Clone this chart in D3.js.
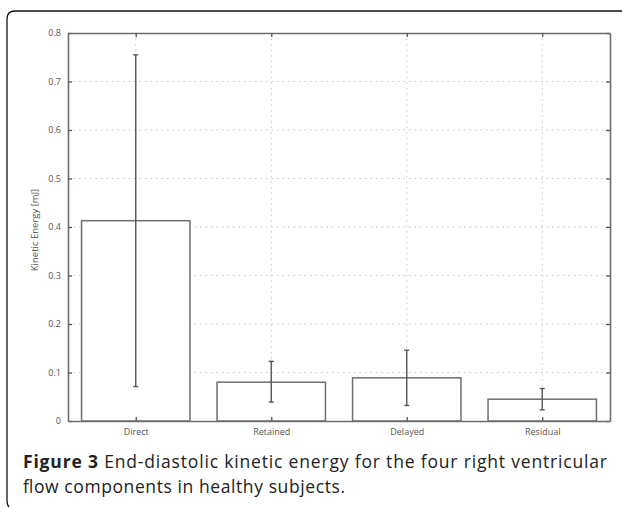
<!DOCTYPE html>
<html>
<head>
<meta charset="utf-8">
<script src="https://cdn.jsdelivr.net/npm/d3@7"></script>
<style>
  body { margin: 0; background: #fff; }
  svg { display: block; }
</style>
</head>
<body>
<div id="chart"></div>
<script>
// data
const categories = ["Direct", "Retained", "Delayed", "Residual"];
const means = [0.413, 0.080, 0.089, 0.045];
const errLow = [0.071, 0.039, 0.032, 0.023];
const errHigh = [0.755, 0.123, 0.146, 0.067];
const yTicks = [0, 0.1, 0.2, 0.3, 0.4, 0.5, 0.6, 0.7, 0.8];

const W = 622, H = 508;
const plot = {left: 68, right: 610, top: 33, bottom: 421};
const axisColor = "#6e6e6e";

const svg = d3.select("#chart").append("svg")
    .attr("width", W)
    .attr("height", H);

svg.append("rect").attr("width", W).attr("height", H).attr("fill", "#fff");

// figure frame (rounded corner at top left)
svg.append("path")
    .attr("d", "M622,11 H15 Q7,11 7,19 V501 Q7,505 9,507")
    .attr("fill", "none")
    .attr("stroke", "#111")
    .attr("stroke-width", 1.3);

const x = d3.scaleLinear()
    .domain([0.5, 4.5])
    .range([plot.left, plot.right]);

const y = d3.scaleLinear()
    .domain([0, 0.8])
    .range([plot.bottom, plot.top]);

const g = svg.append("g");

// dotted grid
g.selectAll(".hgrid")
    .data(yTicks.filter(t => t > 0 && t < 0.8))
    .join("line")
    .attr("class", "hgrid")
    .attr("x1", plot.left).attr("x2", plot.right)
    .attr("y1", d => y(d)).attr("y2", d => y(d))
    .attr("stroke", "#c4c4c4")
    .attr("stroke-width", 1)
    .attr("stroke-dasharray", "1.5,4");

g.selectAll(".vgrid")
    .data(categories)
    .join("line")
    .attr("class", "vgrid")
    .attr("x1", (d, i) => x(i + 1)).attr("x2", (d, i) => x(i + 1))
    .attr("y1", plot.top).attr("y2", plot.bottom)
    .attr("stroke", "#c4c4c4")
    .attr("stroke-width", 1)
    .attr("stroke-dasharray", "1.5,4");

// bars
const barW = x(0.8) - x(0);
g.selectAll(".bar")
    .data(means)
    .join("rect")
    .attr("class", "bar")
    .attr("x", (d, i) => x(i + 1) - barW / 2)
    .attr("y", d => y(d))
    .attr("width", barW)
    .attr("height", d => y(0) - y(d))
    .attr("fill", "#fff")
    .attr("stroke", axisColor)
    .attr("stroke-width", 1.5);

// error bars
const cap = 2.5;
const eb = g.selectAll(".err")
    .data(categories)
    .join("g")
    .attr("class", "err")
    .attr("stroke", "#555")
    .attr("stroke-width", 1.4);
eb.append("line")
    .attr("x1", (d, i) => x(i + 1)).attr("x2", (d, i) => x(i + 1))
    .attr("y1", (d, i) => y(errHigh[i])).attr("y2", (d, i) => y(errLow[i]));
eb.append("line")
    .attr("x1", (d, i) => x(i + 1) - cap).attr("x2", (d, i) => x(i + 1) + cap)
    .attr("y1", (d, i) => y(errHigh[i])).attr("y2", (d, i) => y(errHigh[i]));
eb.append("line")
    .attr("x1", (d, i) => x(i + 1) - cap).attr("x2", (d, i) => x(i + 1) + cap)
    .attr("y1", (d, i) => y(errLow[i])).attr("y2", (d, i) => y(errLow[i]));

// axes: ticks pointing inward on all four sides
const tickLen = 4;
const fmt = d => d === 0 ? "0" : d3.format(".1f")(d);

const axLeft = svg.append("g")
    .attr("transform", "translate(" + plot.left + ",0)")
    .call(d3.axisLeft(y).tickValues(yTicks).tickFormat(fmt).tickSizeInner(-tickLen).tickSizeOuter(0).tickPadding(7));
const axRight = svg.append("g")
    .attr("transform", "translate(" + plot.right + ",0)")
    .call(d3.axisRight(y).tickValues(yTicks).tickFormat("").tickSizeInner(-tickLen).tickSizeOuter(0));
const axBottom = svg.append("g")
    .attr("transform", "translate(0," + plot.bottom + ")")
    .call(d3.axisBottom(x).tickValues([1, 2, 3, 4]).tickFormat((d) => categories[d - 1]).tickSizeInner(-tickLen).tickSizeOuter(0).tickPadding(8));
const axTop = svg.append("g")
    .attr("transform", "translate(0," + plot.top + ")")
    .call(d3.axisTop(x).tickValues([1, 2, 3, 4]).tickFormat("").tickSizeInner(-tickLen).tickSizeOuter(0));

[axLeft, axRight, axBottom, axTop].forEach(a => {
    a.select(".domain").attr("stroke", axisColor).attr("stroke-width", 1.6);
    a.selectAll(".tick line").attr("stroke", "#555").attr("stroke-width", 1.3);
    a.selectAll("text")
        .attr("fill", "#555")
        .style("font-family", "'Open Sans', sans-serif")
        .style("font-size", "9px");
});

// y axis label
svg.append("text")
    .attr("transform", "translate(38,230) rotate(-90)")
    .attr("text-anchor", "middle")
    .attr("fill", "#555")
    .style("font-family", "'Open Sans', sans-serif")
    .style("font-size", "9.5px")
    .text("Kinetic Energy [mJ]");

// caption
const cap1 = svg.append("text")
    .attr("x", 23).attr("y", 468)
    .attr("textLength", 584)
    .attr("lengthAdjust", "spacing")
    .attr("fill", "#222")
    .style("font-family", "'Open Sans', sans-serif")
    .style("font-size", "17.5px");
cap1.append("tspan").attr("font-weight", "bold").text("Figure 3");
cap1.append("tspan").text(" End-diastolic kinetic energy for the four right ventricular");

svg.append("text")
    .attr("x", 23).attr("y", 493)
    .attr("textLength", 322)
    .attr("lengthAdjust", "spacing")
    .attr("fill", "#222")
    .style("font-family", "'Open Sans', sans-serif")
    .style("font-size", "17.5px")
    .text("flow components in healthy subjects.");
</script>
</body>
</html>
